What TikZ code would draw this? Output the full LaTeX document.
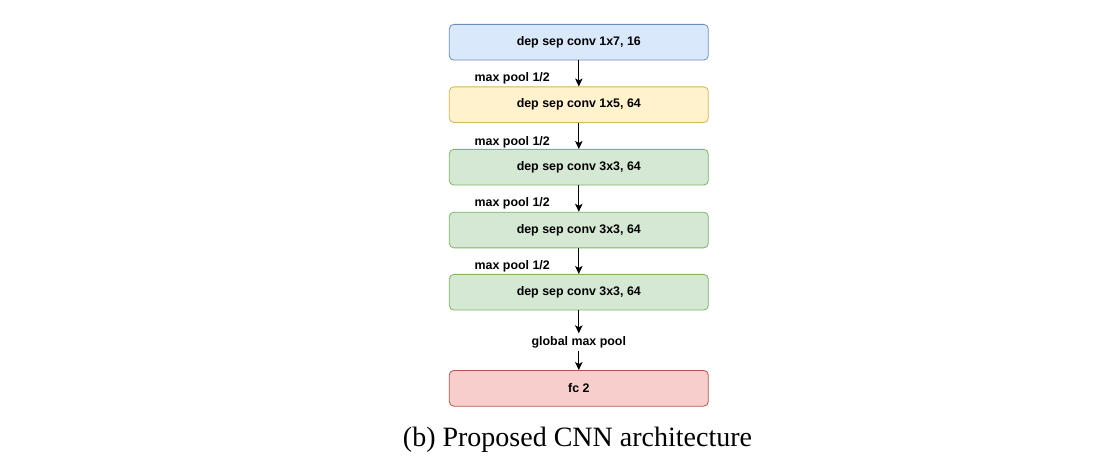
\documentclass[tikz,border=0pt]{standalone}
\usepackage{fontspec}
\setmainfont{Liberation Serif}
\newfontfamily\boxfont{Liberation Sans}
\usetikzlibrary{arrows.meta}
\definecolor{bfill}{HTML}{DAE8FC}\definecolor{bdraw}{HTML}{6C8EBF}
\definecolor{yfill}{HTML}{FFF2CC}\definecolor{ydraw}{HTML}{D6B656}
\definecolor{gfill}{HTML}{D5E8D4}\definecolor{gdraw}{HTML}{82B366}
\definecolor{rfill}{HTML}{F8CECC}\definecolor{rdraw}{HTML}{B85450}
\tikzset{
  layer/.style={rounded corners=4.5pt, minimum width=259pt, minimum height=35.7pt, inner sep=0pt, line width=0.8pt,
    font=\boxfont\bfseries\fontsize{12.4}{14}\selectfont},
  bluebox/.style={layer, fill=bfill, draw=bdraw},
  yellowbox/.style={layer, fill=yfill, draw=ydraw},
  greenbox/.style={layer, fill=gfill, draw=gdraw},
  redbox/.style={layer, fill=rfill, draw=rdraw},
  lbl/.style={font=\boxfont\bfseries\fontsize{12.4}{14}\selectfont, inner sep=0pt},
  conn/.style={-{Stealth[length=8pt,width=7.5pt,inset=2pt]}, line width=1pt},
}
\begin{document}
\begin{tikzpicture}[x=1pt,y=-1pt]
\useasboundingbox (0,0) rectangle (1117,463);
\node[bluebox]   (b1) at (578.8,42.2)  {dep sep conv 1x7, 16};
\node[yellowbox] (b2) at (578.8,104.7) {dep sep conv 1x5, 64};
\node[greenbox]  (b3) at (578.8,167.2) {dep sep conv 3x3, 64};
\node[greenbox]  (b4) at (578.8,230.0) {dep sep conv 3x3, 64};
\node[greenbox]  (b5) at (578.8,292.2) {dep sep conv 3x3, 64};
\node[redbox]    (b6) at (578.8,388.3) {fc 2};
\node[lbl, anchor=east] (l2) at (550,78)    {max pool 1/2};
\node[lbl, anchor=east] (l3) at (550,142.3) {max pool 1/2};
\node[lbl, anchor=east] (l4) at (550,203.3) {max pool 1/2};
\node[lbl, anchor=east] (l5) at (550,266.7) {max pool 1/2};
\node[lbl, inner ysep=3pt] (gmp) at (578.8,342.3) {global max pool};
\draw[conn] (b1) -- (b2);
\draw[conn] (b2) -- (b3);
\draw[conn] (b3) -- (b4);
\draw[conn] (b4) -- (b5);
\draw[conn] (b5) -- (gmp);
\draw[conn] (gmp) -- (b6);
\node[font=\fontsize{28}{32}\selectfont, inner sep=0pt] (cap) at (577.5,440) {(b) Proposed CNN architecture};
\end{tikzpicture}
\end{document}
